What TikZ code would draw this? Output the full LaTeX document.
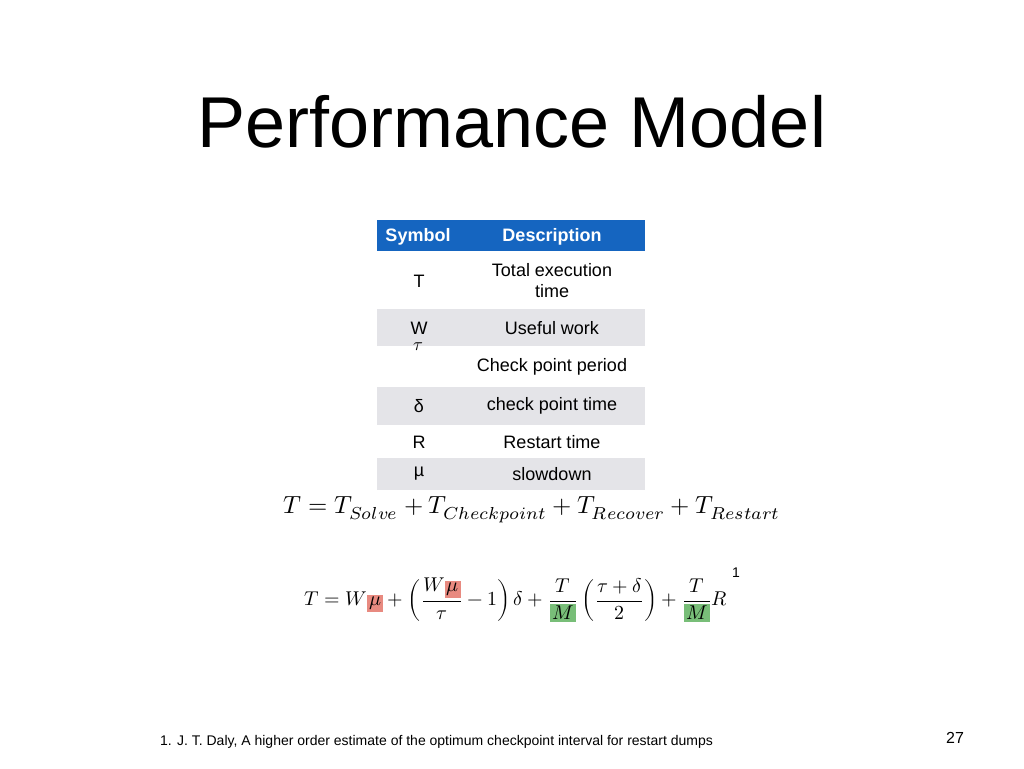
\documentclass[tikz,border=0pt]{standalone}
\usepackage{fontspec}
\usepackage{amsmath}
\setmainfont{Liberation Sans}
\usepackage{unicode-math}
\setmathfont{Latin Modern Math}
\definecolor{hdr}{RGB}{21,101,192}
\definecolor{rowg}{RGB}{228,228,232}
\definecolor{hlr}{RGB}{232,138,128}
\definecolor{hlg}{RGB}{120,190,120}
\tikzset{cell/.style={font=\fontsize{18}{21}\selectfont,align=center,inner sep=0pt},
  eq/.style={inner sep=0pt}}
\newcommand{\hr}[1]{{\setlength\fboxsep{1pt}\colorbox{hlr}{$#1$}}}
\newcommand{\hg}[1]{{\setlength\fboxsep{1pt}\colorbox{hlg}{$#1$}}}
\begin{document}
\begin{tikzpicture}[x=1pt,y=-1pt]
\useasboundingbox[fill=white] (0,0) rectangle (1024,768);
\node (title) at (512,122) {\fontsize{72}{80}\selectfont Performance Model};
\fill[hdr] (377,220) rectangle (645,251);
\fill[rowg] (377,309) rectangle (645,346);
\fill[rowg] (377,387) rectangle (645,425);
\fill[rowg] (377,458) rectangle (645,490);
\node[cell,white,font=\bfseries\fontsize{18}{21}\selectfont] (hs) at (418,237) {Symbol};
\node[cell,white,font=\bfseries\fontsize{18}{21}\selectfont] (hd) at (552,237) {Description};
\node[cell] (s1) at (419,281) {T};
\node[cell] (d1) at (552,281) {Total execution\\time};
\node[cell] (s2) at (419,328) {W};
\node[cell] (d2) at (552,328) {Useful work};
\node[cell] (s3) at (418,347) {$\tau$};
\node[cell] (d3) at (552,367) {Check point period};
\node[cell] (s4) at (419,406) {δ};
\node[cell] (d4) at (552,406) {check point time};
\node[cell] (s5) at (419,442) {R};
\node[cell] (d5) at (552,442) {Restart time};
\node[cell] (s6) at (419,474) {µ};
\node[cell] (d6) at (552,474) {slowdown};
\node[eq] (e1) at (532,510) {\resizebox{497pt}{!}{$T = T_{Solve} + T_{Checkpoint} + T_{Recover} + T_{Restart}$}};
\node[eq] (e2) at (516,600) {\resizebox{423pt}{!}{$T = W\hr{\mu} + \left(\dfrac{W\hr{\mu}}{\tau} - 1\right)\delta + \dfrac{T}{\hg{M}}\left(\dfrac{\tau+\delta}{2}\right) + \dfrac{T}{\hg{M}}R$}};
\node[cell,font=\fontsize{14}{16}\selectfont] (sup) at (736,573) {1};
\node[anchor=west,inner sep=0pt,font=\fontsize{14}{16}\selectfont] (ref) at (160,742) {1. J. T. Daly, A higher order estimate of the optimum checkpoint interval for restart dumps};
\node[font=\fontsize{16}{18}\selectfont] (pg) at (955,738) {27};
\end{tikzpicture}
\end{document}
